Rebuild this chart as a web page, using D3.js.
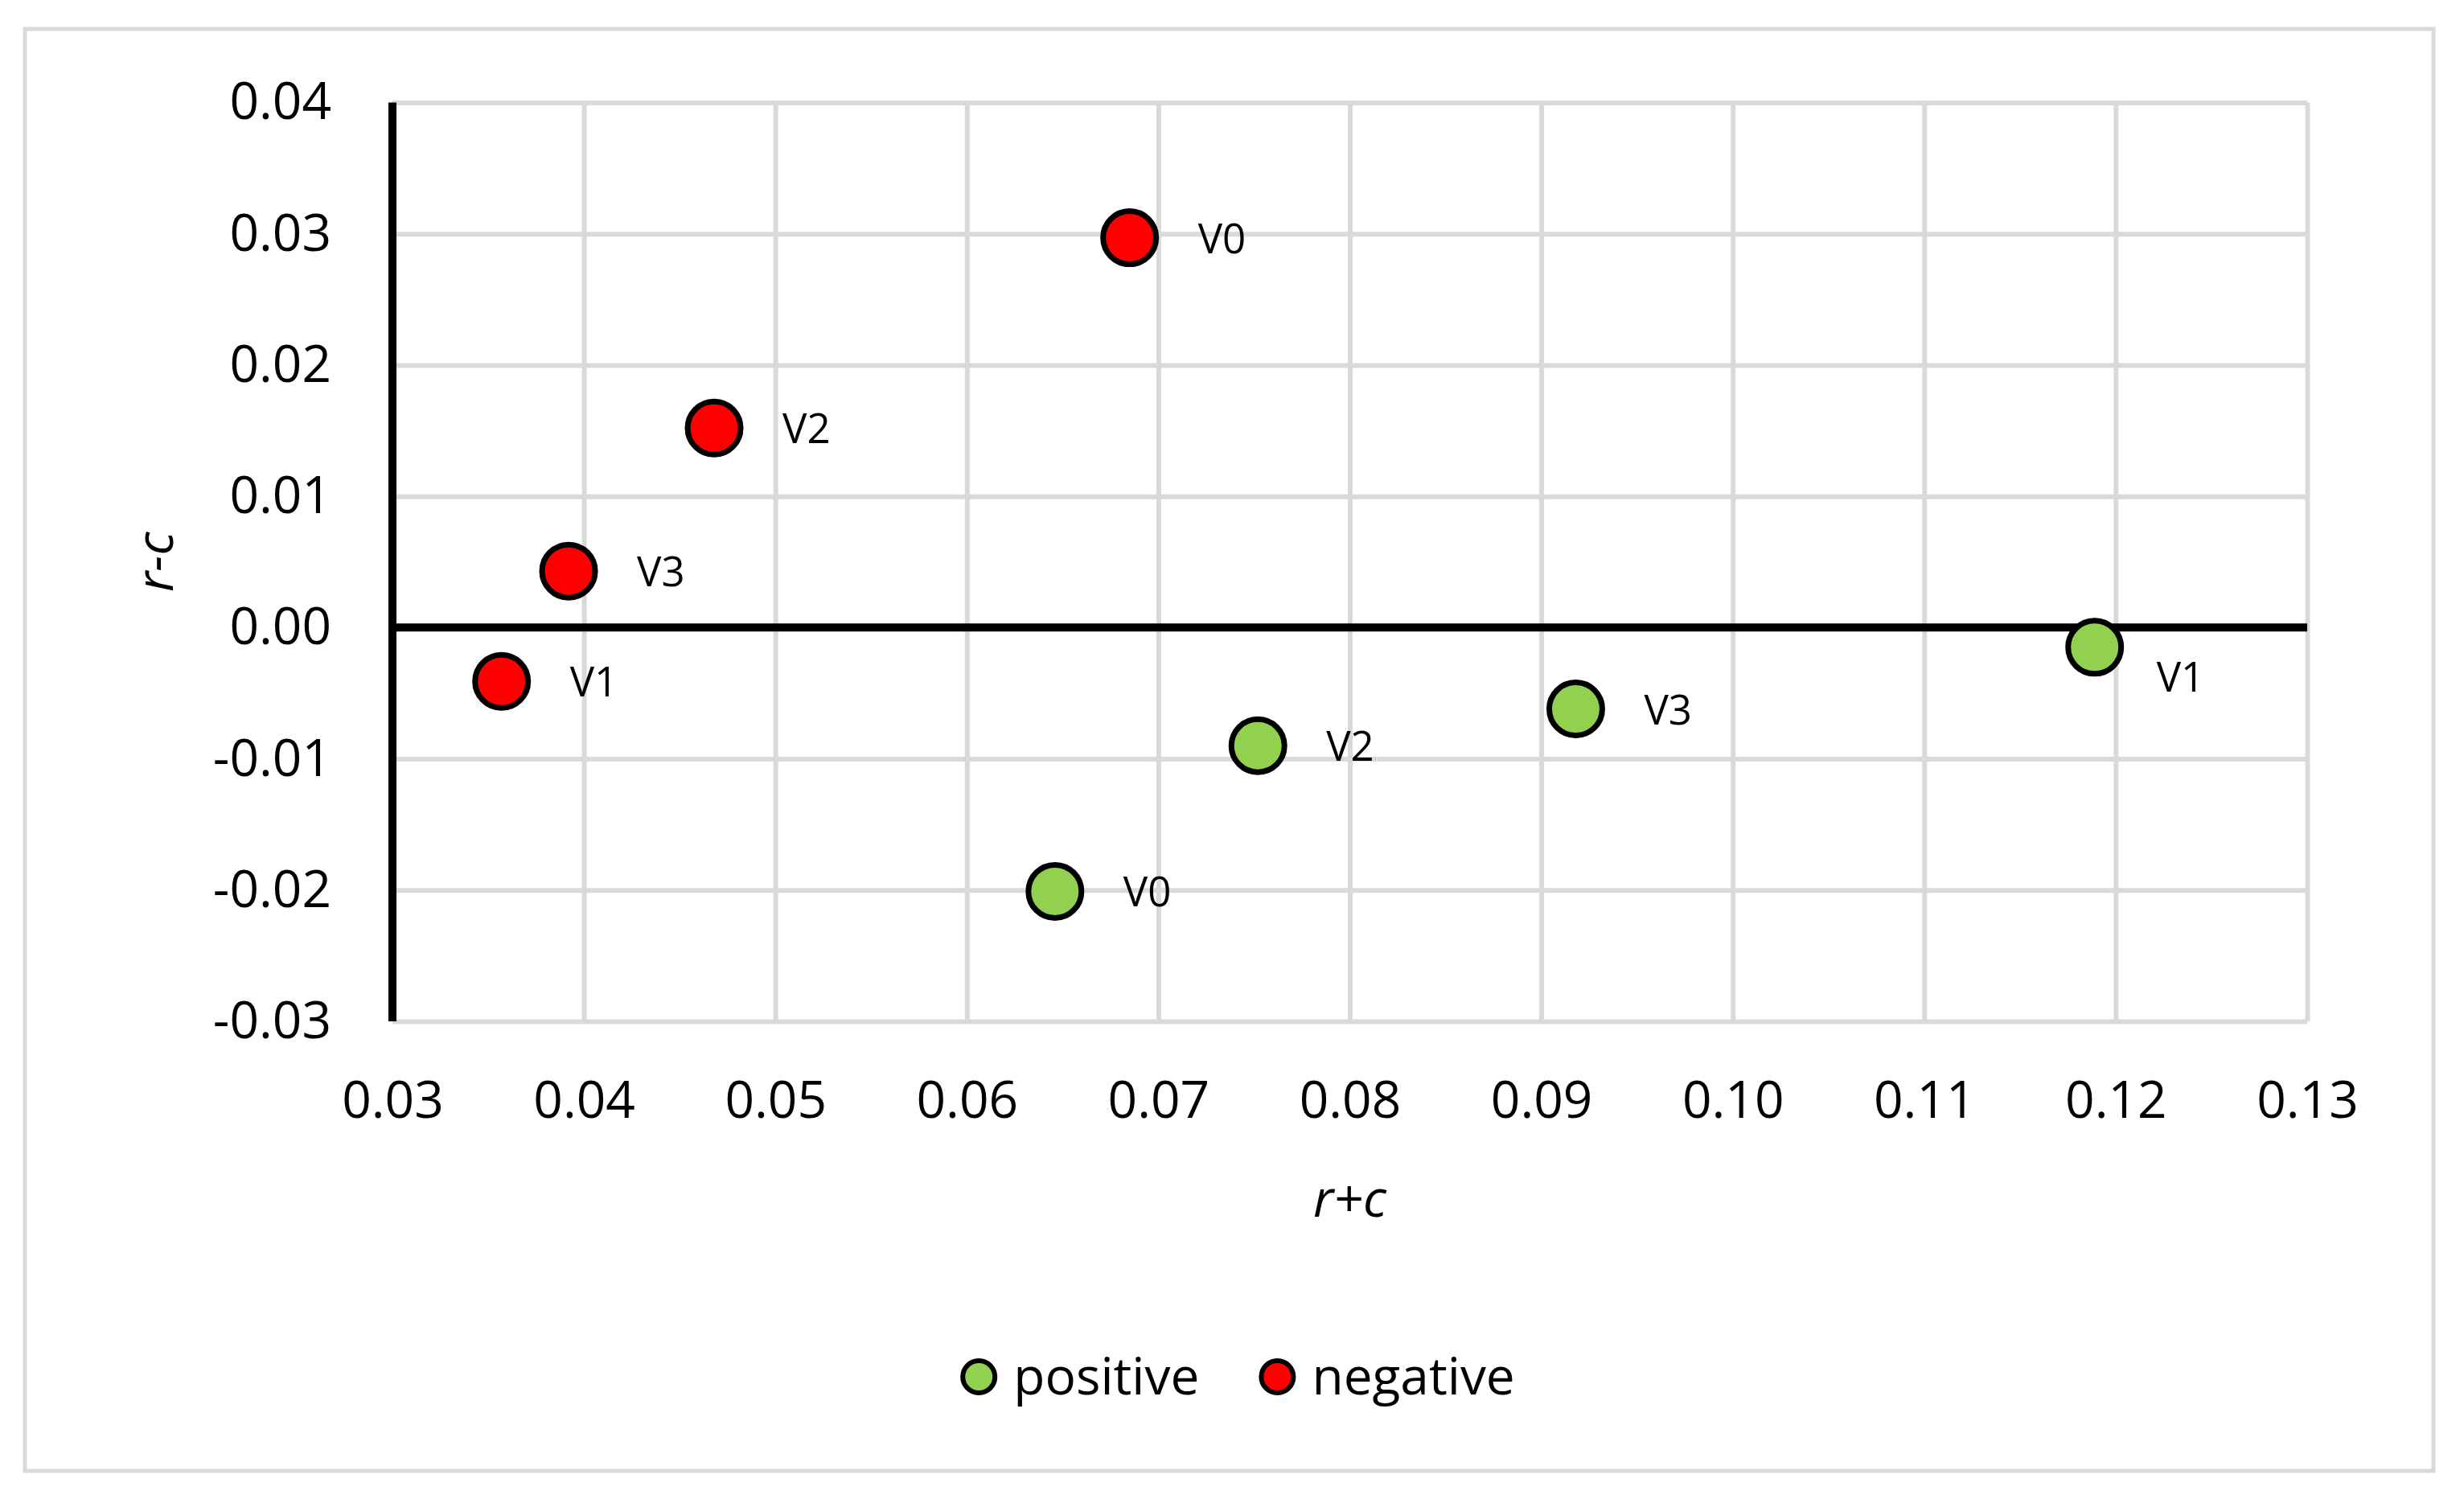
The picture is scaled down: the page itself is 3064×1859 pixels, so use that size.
<!DOCTYPE html>
<html>
<head>
<meta charset="utf-8">
<script src="https://cdn.jsdelivr.net/npm/d3@7/dist/d3.min.js"></script>
<style>
  html, body { margin: 0; padding: 0; background: #ffffff; }
  svg { display: block; }
  text { font-family: "Open Sans", "Noto Sans", sans-serif; fill: #000000; }
</style>
</head>
<body>
<div id="chart"></div>
<script>
// ---- data ----
const seriesNames = ["positive", "negative"];
const pointLabels = ["V0", "V1", "V2", "V3"];
const positiveX = [0.0646, 0.1189, 0.0752, 0.0918];
const positiveY = [-0.0201, -0.0015, -0.0090, -0.0062];
const negativeX = [0.0685, 0.0357, 0.0468, 0.0392];
const negativeY = [0.0297, -0.0041, 0.0152, 0.0043];
const xTicks = [0.03, 0.04, 0.05, 0.06, 0.07, 0.08, 0.09, 0.10, 0.11, 0.12, 0.13];
const yTicks = [-0.03, -0.02, -0.01, 0.00, 0.01, 0.02, 0.03, 0.04];
const xTitle = "r+c";
const yTitle = "r-c";

// ---- styling / layout ----
const W = 3064, H = 1859;
const colors = { positive: "#92D050", negative: "#FF0000" };
const plot = { left: 488, right: 2869, top: 127.5, bottom: 1270 };
// manual label nudges (label moved off the zero line in the original)
const labelNudge = { "positive|V1": { dx: -8, dy: 36 } };

const fmt = d3.formatLocale({ decimal: ".", thousands: ",", grouping: [3], currency: ["", ""], minus: "-" }).format(".2f");

const svg = d3.select("#chart").append("svg")
  .attr("width", W).attr("height", H)
  .attr("viewBox", `0 0 ${W} ${H}`);

// chart area border
svg.append("rect")
  .attr("x", 31).attr("y", 36)
  .attr("width", 3026 - 31).attr("height", 1829 - 36)
  .attr("fill", "#ffffff")
  .attr("stroke", "#d9d9d9").attr("stroke-width", 5);

const x = d3.scaleLinear().domain([0.03, 0.13]).range([plot.left, plot.right]);
const y = d3.scaleLinear().domain([-0.03, 0.04]).range([plot.bottom, plot.top]);

// gridlines
const grid = svg.append("g");
grid.append("g")
  .attr("transform", `translate(0,${plot.bottom})`)
  .call(d3.axisBottom(x).tickValues(xTicks).tickSize(-(plot.bottom - plot.top)).tickFormat(""))
  .call(g => g.select(".domain").remove())
  .call(g => g.selectAll("line").attr("stroke", "#d9d9d9").attr("stroke-width", 6));
grid.append("g")
  .attr("transform", `translate(${plot.left},0)`)
  .call(d3.axisLeft(y).tickValues(yTicks).tickSize(-(plot.right - plot.left)).tickFormat(""))
  .call(g => g.select(".domain").remove())
  .call(g => g.selectAll("line").attr("stroke", "#d9d9d9").attr("stroke-width", 6));

// tick labels
svg.append("g")
  .attr("transform", `translate(${plot.left},0)`)
  .call(d3.axisLeft(y).tickValues(yTicks).tickSize(0).tickPadding(76).tickFormat(fmt))
  .call(g => g.select(".domain").remove())
  .call(g => g.selectAll("text").attr("font-size", 64).attr("font-family", "'Open Sans', sans-serif").attr("fill", "#000"));
svg.append("g")
  .attr("transform", `translate(0,${plot.bottom})`)
  .call(d3.axisBottom(x).tickValues(xTicks).tickSize(0).tickPadding(75).tickFormat(fmt))
  .call(g => g.select(".domain").remove())
  .call(g => g.selectAll("text").attr("font-size", 64).attr("font-family", "'Open Sans', sans-serif").attr("fill", "#000"));

// black axes: vertical axis at x=0.03 and horizontal line at y=0
svg.append("line")
  .attr("x1", x(0.03)).attr("x2", x(0.03))
  .attr("y1", plot.top).attr("y2", plot.bottom)
  .attr("stroke", "#000").attr("stroke-width", 10);
svg.append("line")
  .attr("x1", plot.left).attr("x2", plot.right)
  .attr("y1", y(0)).attr("y2", y(0))
  .attr("stroke", "#000").attr("stroke-width", 10);

// axis titles
svg.append("text")
  .attr("x", (plot.left + plot.right) / 2).attr("y", 1513)
  .attr("text-anchor", "middle")
  .attr("font-size", 64).attr("font-style", "italic")
  .text(xTitle);
svg.append("text")
  .attr("transform", `translate(215,${(plot.top + plot.bottom) / 2}) rotate(-90)`)
  .attr("text-anchor", "middle")
  .attr("font-size", 64).attr("font-style", "italic")
  .text(yTitle);

// points
const series = [
  { name: "positive", xs: positiveX, ys: positiveY },
  { name: "negative", xs: negativeX, ys: negativeY }
];
const rows = [];
series.forEach(s => pointLabels.forEach((lab, i) => rows.push({ series: s.name, label: lab, x: s.xs[i], y: s.ys[i] })));

const pts = svg.append("g");
pts.selectAll("circle").data(rows).join("circle")
  .attr("cx", d => x(d.x)).attr("cy", d => y(d.y))
  .attr("r", 33)
  .attr("fill", d => colors[d.series])
  .attr("stroke", "#000").attr("stroke-width", 7);

pts.selectAll("text").data(rows).join("text")
  .attr("x", d => x(d.x) + 85 + ((labelNudge[d.series + "|" + d.label] || {}).dx || 0))
  .attr("y", d => y(d.y) + 19 + ((labelNudge[d.series + "|" + d.label] || {}).dy || 0))
  .attr("font-size", 51)
  .text(d => d.label);

// legend
const legend = svg.append("g");
const items = legend.selectAll("g").data(seriesNames).join("g");
items.append("circle")
  .attr("r", 20).attr("cy", 0)
  .attr("fill", d => colors[d])
  .attr("stroke", "#000").attr("stroke-width", 6);
items.append("text")
  .attr("x", 43).attr("y", 22)
  .attr("font-size", 64)
  .text(d => d);
const textW = items.nodes().map(n => d3.select(n).select("text").node().getComputedTextLength());
const gapToNext = 97;
const offsets = [];
let cur = 0;
textW.forEach((w, i) => { offsets.push(cur); cur += 43 + w + gapToNext; });
const spanLeft = -23, spanRight = offsets[offsets.length - 1] + 43 + textW[textW.length - 1];
const shift = 1539 - (spanLeft + spanRight) / 2;
items.attr("transform", (d, i) => `translate(${shift + offsets[i]},1712)`);
</script>
</body>
</html>
